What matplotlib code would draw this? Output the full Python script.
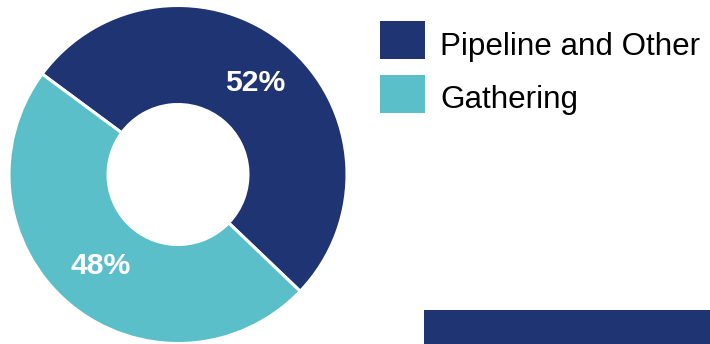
import matplotlib
matplotlib.use("Agg")
import matplotlib.pyplot as plt
from matplotlib.patches import Rectangle

plt.rcParams['font.family'] = ['Liberation Sans', 'DejaVu Sans']

categories = ["Pipeline and Other", "Gathering"]
shares = [52, 48]
colors = ["#1F3473", "#5BBFCA"]

W, H = 710, 344
fig = plt.figure(figsize=(W / 100, H / 100), dpi=100)

# donut: center (178, 174.5) px, outer radius 169 px
cx, cy, R = 178, 174.5, 169
ax = fig.add_axes([(cx - R) / W, (H - cy - R) / H, 2 * R / W, 2 * R / H])
wedges, _, autotexts = ax.pie(
    shares, colors=colors, startangle=143.5, counterclock=False,
    radius=1.0, wedgeprops=dict(width=1 - 70 / 169, edgecolor="white", linewidth=2.2),
    autopct=lambda p: f"{p:.0f}%", pctdistance=0.707,
    textprops=dict(color="white", fontsize=21.7, fontweight="bold"))
ax.set_xlim(-1, 1)
ax.set_ylim(-1, 1)
ax.set_aspect("equal")
ax.axis("off")

# legend entries: square rows and text baselines in px from top
sq_x, sq_w, sq_h = 380, 45, 38
sq_top = [21, 75]
text_base = [55, 108]
for name, col, top, base in zip(categories, colors, sq_top, text_base):
    fig.patches.append(Rectangle((sq_x / W, (H - top - sq_h) / H), sq_w / W, sq_h / H,
                                 transform=fig.transFigure, facecolor=col, edgecolor="none"))
    fig.text(440 / W, (H - base) / H, name, fontsize=22.6, color="black",
             va="baseline", ha="left")

# footer band
fig.patches.append(Rectangle((424 / W, 0), (W - 424) / W, 34 / H,
                             transform=fig.transFigure, facecolor=colors[0], edgecolor="none"))

fig.savefig("out.png", dpi=100, facecolor="white")
